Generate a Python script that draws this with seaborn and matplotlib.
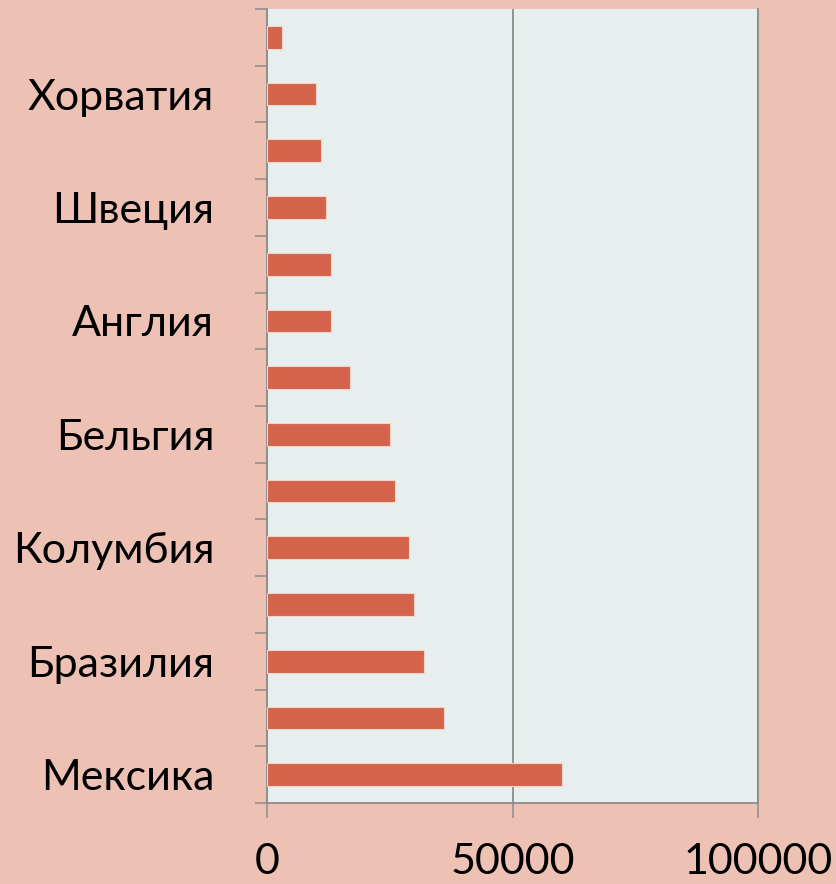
import matplotlib
matplotlib.use("Agg")
import matplotlib.pyplot as plt
import seaborn as sns
import pandas as pd
from matplotlib.ticker import FixedLocator

# Categories from top to bottom (hidden ones are not labelled in the chart)
countries = ["Исландия", "Хорватия", "Дания", "Швеция", "Испания", "Англия",
             "Германия", "Бельгия", "Перу", "Колумбия", "Аргентина", "Бразилия",
             "США", "Мексика"]
values = [3000, 10000, 11000, 12000, 13000, 13000, 17000, 25000, 26000,
          29000, 30000, 32000, 36000, 60000]
shown_labels = ["", "Хорватия", "", "Швеция", "", "Англия", "", "Бельгия",
                "", "Колумбия", "", "Бразилия", "", "Мексика"]
x_ticks = [0, 50000, 100000]

df = pd.DataFrame({"country": countries, "value": values})

sns.set_theme(style="white")
plt.rcParams["font.family"] = ["Lato", "DejaVu Sans"]

fig = plt.figure(figsize=(8.37, 8.84), dpi=100)
fig.patch.set_facecolor("#EEC1B5")
ax = fig.add_axes([267/837, 1 - 803/884, (758-267)/837, (803-9)/884])
ax.set_facecolor("#E6EFEE")

sns.barplot(data=df, x="value", y="country", order=countries, orient="h",
            color="#D3644B", saturation=1, width=0.4, edgecolor="#F3D2C9",
            linewidth=0.8, ax=ax, zorder=3)

ax.set_xlim(0, 100000)
ax.set_ylim(13.5, -0.5)
ax.set_xlabel("")
ax.set_ylabel("")

grey = "#8C8C8C"
ax.set_xticks(x_ticks)
ax.set_xticklabels([str(t) for t in x_ticks], fontsize=31, color="black")
ax.xaxis.grid(True, color=grey, linewidth=1.3, zorder=1)
ax.yaxis.grid(False)

ax.set_yticks(range(len(countries)))
ax.set_yticklabels(shown_labels, fontsize=31, color="black")
ax.yaxis.set_minor_locator(FixedLocator([i - 0.5 for i in range(len(countries) + 1)]))

ax.tick_params(axis="y", which="major", length=0, pad=38)
ax.tick_params(axis="y", which="minor", length=9, width=1.1, color=grey, left=True)
ax.tick_params(axis="x", which="major", length=11, width=1.1, color=grey,
               bottom=True, pad=18)

for side in ["left", "bottom", "right"]:
    ax.spines[side].set_visible(True)
    ax.spines[side].set_color(grey)
    ax.spines[side].set_linewidth(1.3)
ax.spines["top"].set_visible(False)

fig.savefig("out.png", dpi=100, facecolor=fig.get_facecolor())
